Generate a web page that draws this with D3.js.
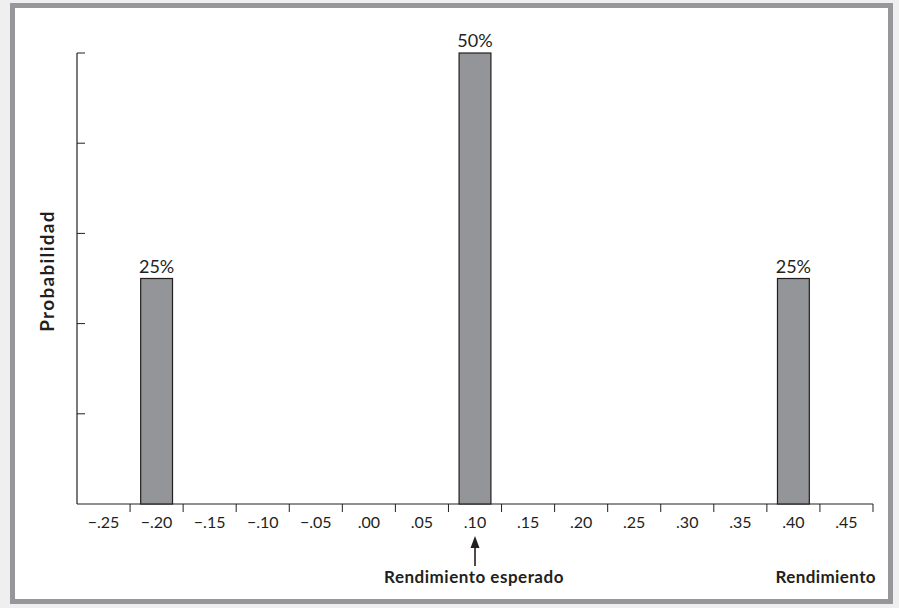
<!DOCTYPE html>
<html><head><meta charset="utf-8">
<script src="https://cdn.jsdelivr.net/npm/d3@7"></script>
<style>html,body{margin:0;padding:0;background:#efefef;}svg{display:block;}</style>
</head><body>
<script>
const categories = [-0.25,-0.20,-0.15,-0.10,-0.05,0.00,0.05,0.10,0.15,0.20,0.25,0.30,0.35,0.40,0.45];
const tickLabels = ["\u2212.25","\u2212.20","\u2212.15","\u2212.10","\u2212.05",".00",".05",".10",".15",".20",".25",".30",".35",".40",".45"];
const barReturns = [-0.20, 0.10, 0.40];
const barProbs = [25, 50, 25];
const barLabels = ["25%","50%","25%"];
const yTicks = [0,10,20,30,40,50];

const W=899,H=608;
const svg=d3.select("body").append("svg").attr("width",W).attr("height",H);
svg.append("rect").attr("x",0).attr("y",0).attr("width",W).attr("height",H).attr("fill","#efefef");
svg.append("rect").attr("x",12.5).attr("y",5.5).attr("width",878).attr("height",596)
  .attr("fill","#fff").attr("stroke","#97979b").attr("stroke-width",5);

const ink="#231f20";
const font="Lato, 'Open Sans', sans-serif";
const x=d3.scaleBand().domain(categories.map(String)).range([77,873]).paddingInner(0.4).paddingOuter(0.2);
const y=d3.scaleLinear().domain([0,50]).range([504,53]);
const step=x.step();
const bounds=categories.map(c=>x(String(c))-x.paddingInner()*step/2).concat([x(String(categories[categories.length-1]))+x.bandwidth()+x.paddingInner()*step/2]);

// x axis
svg.append("line").attr("x1",77).attr("x2",873).attr("y1",y(0)).attr("y2",y(0)).attr("stroke",ink).attr("stroke-width",1.2);
svg.selectAll(".xt").data(bounds.slice(1)).enter().append("line")
  .attr("x1",d=>d).attr("x2",d=>d).attr("y1",y(0)).attr("y2",y(0)+8).attr("stroke",ink).attr("stroke-width",1);
svg.selectAll(".xl").data(categories).enter().append("text")
  .attr("x",d=>x(String(d))+x.bandwidth()/2).attr("y",y(0)+24).attr("text-anchor","middle")
  .attr("font-family",font).attr("font-size",16).attr("fill",ink)
  .text((d,i)=>tickLabels[i]);

// y axis
svg.append("line").attr("x1",77).attr("x2",77).attr("y1",y(50)).attr("y2",y(0)).attr("stroke",ink).attr("stroke-width",1.2);
svg.selectAll(".yt").data(yTicks.slice(1)).enter().append("line")
  .attr("x1",77).attr("x2",85).attr("y1",d=>y(d)).attr("y2",d=>y(d)).attr("stroke",ink).attr("stroke-width",1);

// bars
svg.selectAll(".bar").data(barReturns).enter().append("rect")
  .attr("x",d=>x(String(d))).attr("width",x.bandwidth())
  .attr("y",(d,i)=>y(barProbs[i])).attr("height",(d,i)=>y(0)-y(barProbs[i]))
  .attr("fill","#939598").attr("stroke",ink).attr("stroke-width",1.2);
svg.selectAll(".bl").data(barReturns).enter().append("text")
  .attr("x",d=>x(String(d))+x.bandwidth()/2).attr("y",(d,i)=>y(barProbs[i])-6)
  .attr("text-anchor","middle").attr("font-family",font).attr("font-size",18).attr("fill",ink)
  .text((d,i)=>barLabels[i]);

// axis titles
svg.append("text").attr("transform","translate(54,271) rotate(-90)").attr("text-anchor","middle")
  .attr("font-family",font).attr("font-weight","bold").attr("font-size",19).attr("letter-spacing",1.3).attr("fill",ink)
  .text("Probabilidad");
svg.append("text").attr("x",876).attr("y",583).attr("text-anchor","end")
  .attr("font-family",font).attr("font-weight","bold").attr("font-size",17).attr("letter-spacing",0.4).attr("fill",ink)
  .text("Rendimiento");
const ex=x(String(0.1))+x.bandwidth()/2;
svg.append("text").attr("x",ex-1).attr("y",583).attr("text-anchor","middle")
  .attr("font-family",font).attr("font-weight","bold").attr("font-size",17).attr("letter-spacing",0.5).attr("fill",ink)
  .text("Rendimiento esperado");
svg.append("line").attr("x1",ex).attr("x2",ex).attr("y1",566).attr("y2",544).attr("stroke",ink).attr("stroke-width",1.6);
svg.append("path").attr("d",`M${ex-4.5},${548}L${ex},${536}L${ex+4.5},${548}Z`).attr("fill",ink);
</script>
</body></html>
